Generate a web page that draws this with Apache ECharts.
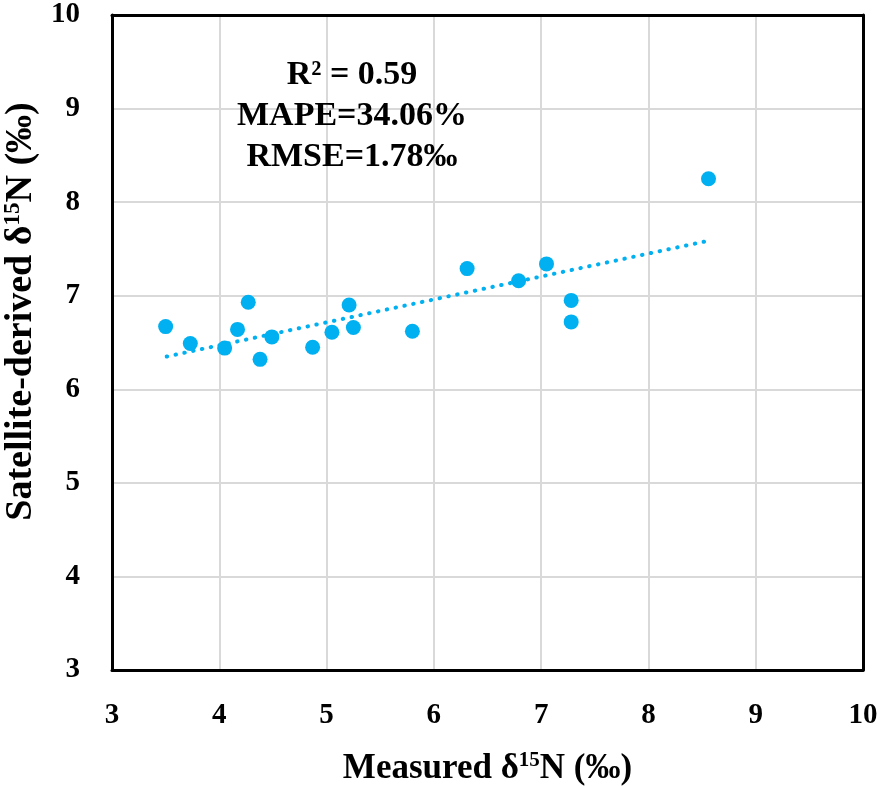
<!DOCTYPE html>
<html>
<head>
<meta charset="utf-8">
<script src="https://cdn.jsdelivr.net/npm/echarts@6/dist/echarts.min.js"></script>
<style>html,body{margin:0;padding:0;background:#fff}#c{width:886px;height:786px}</style>
</head>
<body>
<div id="c"></div>
<script>
const measured = [3.50, 3.73, 4.05, 4.17, 4.27, 4.38, 4.49, 4.87, 5.05, 5.21, 5.25, 5.80, 6.31, 6.79, 7.05, 7.28, 7.28, 8.56];
const satellite = [6.67, 6.49, 6.44, 6.64, 6.93, 6.32, 6.56, 6.45, 6.61, 6.90, 6.66, 6.62, 7.29, 7.16, 7.34, 6.95, 6.72, 8.25];
const trendX = [3.51, 8.57];
const trendY = [6.35, 7.59];
const xTicks = [3, 4, 5, 6, 7, 8, 9, 10];
const yTicks = [3, 4, 5, 6, 7, 8, 9, 10];
const statLines = ['R² = 0.59', 'MAPE=34.06%', 'RMSE=1.78‰'];

const FONT = '"Liberation Serif", "Times New Roman", serif';
const BLUE = '#00B0F0';
const chart = echarts.init(document.getElementById('c'));
const labelStyle = { color: '#000', fontFamily: FONT, fontWeight: 'bold', fontSize: 29 };
function rich(size) {
  return {
    a: { fontFamily: FONT, fontWeight: 'bold', fontSize: size, color: '#000' },
    sup: { fontFamily: FONT, fontWeight: 'bold', fontSize: Math.round(size * 0.6), color: '#000', verticalAlign: 'top', padding: [0, 0, Math.round(size * 0.45), 0] }
  };
}
const frameLine = { show: true, onZero: false, lineStyle: { color: '#000', width: 3 } };
const gridLine = { show: true, lineStyle: { color: '#d9d9d9', width: 2 } };
chart.setOption({
  animation: false,
  grid: { left: 112, right: 23, top: 15, bottom: 116, show: false, containLabel: false, outerBoundsMode: 'none' },
  xAxis: [{
    type: 'value', min: xTicks[0], max: xTicks[xTicks.length - 1], interval: 1,
    axisLine: frameLine, axisTick: { show: false },
    splitLine: gridLine,
    axisLabel: Object.assign({ margin: 31 }, labelStyle),
    name: '{a|Measured δ}{sup|15}{a|N (‰)}', nameLocation: 'middle', nameGap: 80,
    nameTextStyle: { rich: rich(35) }
  }, {
    type: 'value', position: 'top', min: xTicks[0], max: xTicks[xTicks.length - 1], interval: 1,
    axisLine: frameLine, axisTick: { show: false }, axisLabel: { show: false }, splitLine: { show: false }
  }],
  yAxis: [{
    type: 'value', min: yTicks[0], max: yTicks[yTicks.length - 1], interval: 1,
    axisLine: frameLine, axisTick: { show: false },
    splitLine: gridLine,
    axisLabel: Object.assign({ margin: 32 }, labelStyle),
    name: '{a|Satellite-derived δ}{sup|15}{a|N (‰)}', nameLocation: 'middle', nameGap: 68, nameRotate: 90,
    nameTextStyle: { rich: rich(38), padding: [0, 0, 0, 62] }
  }, {
    type: 'value', position: 'right', min: yTicks[0], max: yTicks[yTicks.length - 1], interval: 1,
    axisLine: frameLine, axisTick: { show: false }, axisLabel: { show: false }, splitLine: { show: false }
  }],
  graphic: [{
    type: 'text', left: 352 - 130, top: 55, z: 10,
    style: {
      text: statLines.join('\n'), width: 260, align: 'center', textAlign: 'center',
      font: 'bold 34px ' + FONT, lineHeight: 41, fill: '#000'
    }
  }],
  series: [{
    type: 'scatter', symbolSize: 15, itemStyle: { color: BLUE, opacity: 1 },
    data: measured.map((x, i) => [x, satellite[i]]), z: 3
  }, {
    type: 'line', showSymbol: false, symbol: 'none', z: 2,
    lineStyle: { color: BLUE, width: 4, type: [0.5, 8.5], cap: 'round' },
    data: trendX.map((x, i) => [x, trendY[i]])
  }]
});
</script>
</body>
</html>
